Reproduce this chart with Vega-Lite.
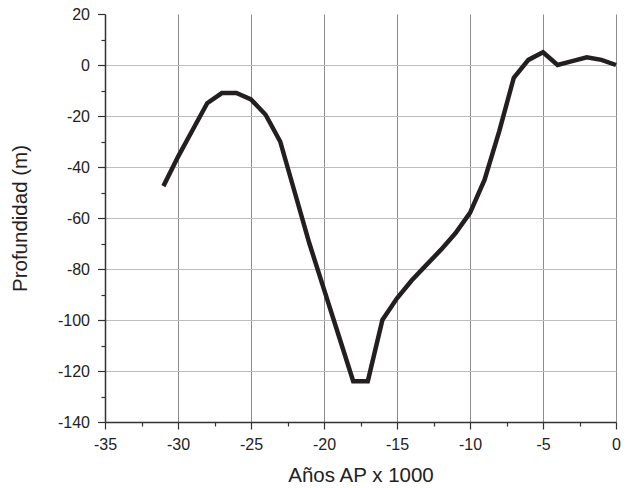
{
  "$schema": "https://vega.github.io/schema/vega-lite/v6.json",
  "width": 511,
  "height": 408,
  "autosize": "none",
  "padding": {"left": 105, "top": 14, "right": 25, "bottom": 66},
  "background": "white",
  "config": {
    "view": {"stroke": null},
    "font": "Liberation Sans"
  },
  "data": {
    "values": [
      {"x": -31, "y": -47.5},
      {"x": -30, "y": -36},
      {"x": -29, "y": -25.5},
      {"x": -28, "y": -15},
      {"x": -27, "y": -11},
      {"x": -26, "y": -11},
      {"x": -25, "y": -13.5},
      {"x": -24, "y": -19.5},
      {"x": -23, "y": -30},
      {"x": -22, "y": -50},
      {"x": -21, "y": -70},
      {"x": -20, "y": -88},
      {"x": -19, "y": -106},
      {"x": -18, "y": -124},
      {"x": -17, "y": -124},
      {"x": -16, "y": -100},
      {"x": -15, "y": -91.5},
      {"x": -14, "y": -84.5},
      {"x": -13, "y": -78.5},
      {"x": -12, "y": -72.5},
      {"x": -11, "y": -66},
      {"x": -10, "y": -58},
      {"x": -9, "y": -45},
      {"x": -8, "y": -26},
      {"x": -7, "y": -5},
      {"x": -6, "y": 2},
      {"x": -5, "y": 5},
      {"x": -4, "y": 0},
      {"x": -3, "y": 1.5},
      {"x": -2, "y": 3},
      {"x": -1, "y": 2},
      {"x": 0, "y": 0}
    ]
  },
  "mark": {"type": "line", "color": "#231f20", "strokeWidth": 4.5, "strokeJoin": "miter", "strokeCap": "butt"},
  "encoding": {
    "x": {
      "field": "x",
      "type": "quantitative",
      "scale": {"domain": [-35, 0], "nice": false, "zero": false},
      "axis": {
        "title": "Años AP x 1000",
        "values": [-35, -32.5, -30, -27.5, -25, -22.5, -20, -17.5, -15, -12.5, -10, -7.5, -5, -2.5, 0],
        "labelExpr": "datum.value % 5 != 0 ? '' : '' + datum.value",
        "grid": true,
        "gridColor": "#8c8c8c",
        "gridWidth": 1,
        "gridOpacity": {"condition": {"test": "datum.value % 5 != 0 || datum.value == -35", "value": 0}, "value": 1},
        "tickSize": {"condition": {"test": "datum.value % 5 != 0", "value": 4}, "value": 7},
        "tickColor": "#333333",
        "tickWidth": 1.2,
        "domainColor": "#333333",
        "domainWidth": 1.5,
        "labelFontSize": 16,
        "labelColor": "#222222",
        "labelPadding": 7,
        "labelFlush": false,
        "titleFontSize": 20.5,
        "titleFontWeight": "normal",
        "titleColor": "#222222",
        "titlePadding": 13
      }
    },
    "y": {
      "field": "y",
      "type": "quantitative",
      "scale": {"domain": [-140, 20], "nice": false, "zero": false},
      "axis": {
        "title": "Profundidad (m)",
        "values": [-140, -130, -120, -110, -100, -90, -80, -70, -60, -50, -40, -30, -20, -10, 0, 10, 20],
        "labelExpr": "datum.value % 20 != 0 ? '' : '' + datum.value",
        "grid": true,
        "gridColor": "#bdbdbd",
        "gridWidth": 1.2,
        "gridOpacity": {"condition": {"test": "datum.value % 20 != 0 || datum.value == -140 || datum.value == 20", "value": 0}, "value": 1},
        "tickSize": {"condition": {"test": "datum.value % 20 != 0", "value": 4}, "value": 7.5},
        "tickColor": "#333333",
        "tickWidth": 1.2,
        "domainColor": "#333333",
        "domainWidth": 1.5,
        "labelFontSize": 16,
        "labelColor": "#222222",
        "labelPadding": 8,
        "labelFlush": false,
        "titleFontSize": 20.5,
        "titleFontWeight": "normal",
        "titleColor": "#222222",
        "titlePadding": 27
      }
    }
  }
}
